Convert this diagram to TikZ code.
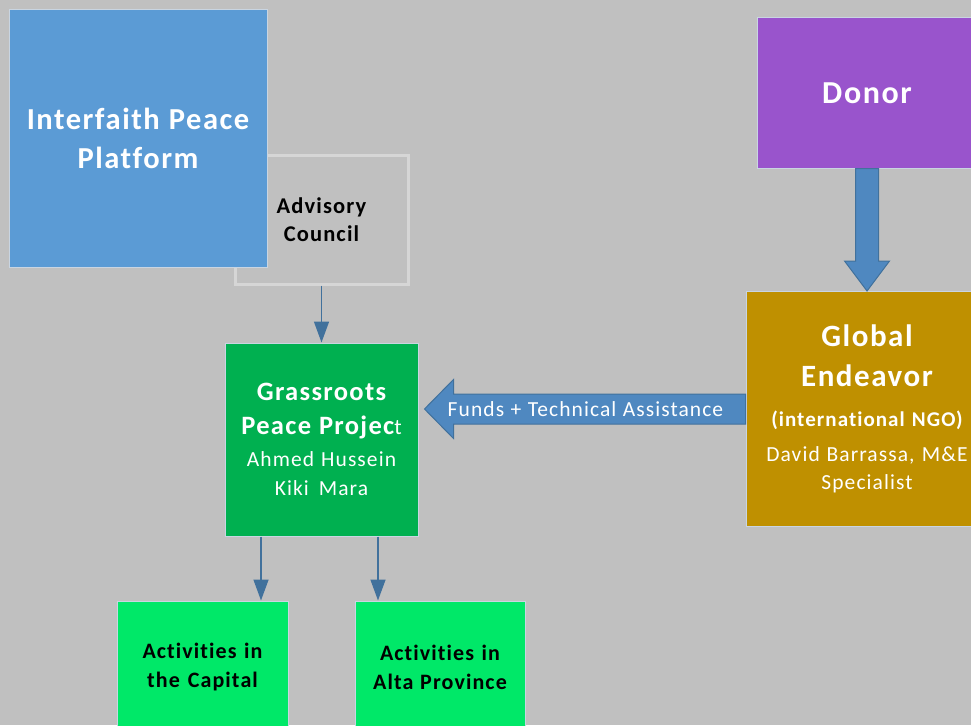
\documentclass[tikz,border=0pt]{standalone}
\usepackage{fontspec}
\setmainfont{Carlito}[LetterSpace=5, Ligatures=NoCommon]
\usetikzlibrary{arrows.meta,calc}
\newcommand{\fsz}[2]{\fontsize{#1}{#2}\selectfont\spaceskip=0.22em plus 0.1em\relax}
\definecolor{bg}{HTML}{C0C0C0}
\definecolor{ippc}{HTML}{5B9BD5}
\definecolor{donorc}{HTML}{9954CC}
\definecolor{goldc}{HTML}{BF9000}
\definecolor{gpc}{HTML}{00B050}
\definecolor{actc}{HTML}{00E868}
\definecolor{edgec}{HTML}{C9D5E2}
\definecolor{advc}{HTML}{D6D6D6}
\definecolor{thinc}{HTML}{41719C}
\definecolor{blockc}{HTML}{4F88C0}
\definecolor{blockedge}{HTML}{41719C}
\tikzset{
  box/.style={draw=edgec, line width=1pt, inner sep=0pt, align=center, text=white},
  thinarrow/.style={draw=thinc, line width=1.5pt, -{Triangle[length=21pt,width=15pt]}},
  blockarrow/.style={fill=blockc, draw=blockedge, line width=1pt},
}
\begin{document}
\begin{tikzpicture}[x=1pt,y=-1pt]
\useasboundingbox (0,0) rectangle (971,725);
\fill[bg] (0,0) rectangle (971,725);

% Advisory council (behind)
\node[draw=advc, line width=3pt, inner sep=0pt, minimum width=173pt, minimum height=129pt,
      text width=165pt, align=center, text=black] (ac) at (321.5,219.5)
  {\fsz{22.5}{28}\bfseries Advisory\\Council\par};

% Interfaith Peace Platform
\node[box, fill=ippc, minimum width=258pt, minimum height=257pt, text width=254pt] (ipp) at (138,138.5)
  {\fsz{30.5}{39}\bfseries Interfaith Peace\\Platform\par};

% Donor
\node[box, fill=donorc, minimum width=220pt, minimum height=150pt, text width=210pt] (dn) at (867,93)
  {\fsz{32}{36}\bfseries Donor\par};

% Global Endeavor
\node[box, fill=goldc, minimum width=242pt, minimum height=235pt, text width=240pt] (ge) at (867,409)
  {\fsz{31}{40}\bfseries Global\\Endeavor\par\vspace{2pt}
   \fsz{21}{38}(international NGO)\par\vspace{7pt}
   \fsz{21.5}{28}\mdseries David Barrassa, M\&E\\Specialist\par};

% Grassroots Peace Project
\node[box, fill=gpc, minimum width=193pt, minimum height=193pt, text width=192pt] (gp) at (321.5,439.5)
  {\fsz{26.5}{34}\bfseries Grassroots\\Peace Projec{\fontsize{22}{34}\selectfont\mdseries t}\par\vspace{3pt}
   \fsz{21.5}{29}\mdseries Ahmed Hussein\\Kiki Mara\par};

% Activities
\node[box, fill=actc, text=black, minimum width=171pt, minimum height=132pt, text width=168pt] (cap) at (202.5,667)
  {\fsz{22}{29}\bfseries Activities in\\the Capital\par};
\node[box, fill=actc, text=black, minimum width=170pt, minimum height=132pt, text width=168pt] (alta) at (440,667)
  {\fsz{22}{29}\bfseries Activities in\\Alta Province\par};

% Thin arrows
\draw[thinarrow] (ac.south) -- (gp.north);
\draw[thinarrow] ([xshift=-60.5pt]gp.south) -- ([xshift=-60.5pt]gp.south |- cap.north);
\draw[thinarrow] ([xshift=56.5pt]gp.south) -- ([xshift=56.5pt]gp.south |- alta.north);

% Block arrow: Donor -> Global Endeavor
\path let \p1=(dn.south), \p2=(ge.north) in
  [blockarrow] (\x1-11.5pt,\y1) -- (\x1-11.5pt,\y2+30pt) -- (\x1-22.5pt,\y2+30pt)
  -- (\x1,\y2) -- (\x1+22.5pt,\y2+30pt) -- (\x1+11.5pt,\y2+30pt) -- (\x1+11.5pt,\y1) -- cycle;

% Block arrow: Global Endeavor -> Grassroots
\path let \p1=(ge.west), \p2=(gp.east) in
  [blockarrow] (\x1,\y1+15pt) -- (\x2+35pt,\y1+15pt) -- (\x2+35pt,\y1+29.5pt)
  -- (\x2+6pt,\y1) -- (\x2+35pt,\y1-29.5pt) -- (\x2+35pt,\y1-15pt) -- (\x1,\y1-15pt) -- cycle;
\node[text=white, inner sep=0pt, font=\fontsize{21.5}{24}\selectfont] (ft) at ($(ge.west)+(-160,0)$)
  {\spaceskip=0.3em\relax Funds + Technical Assistance};
\end{tikzpicture}
\end{document}
